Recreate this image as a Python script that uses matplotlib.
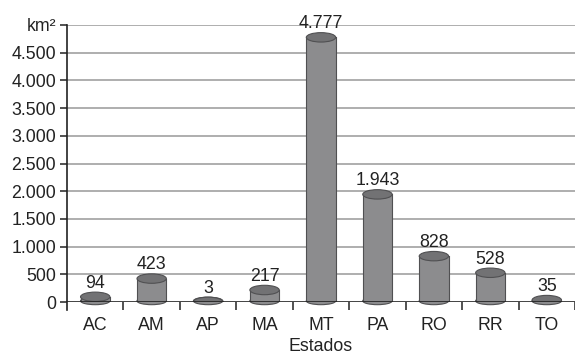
import matplotlib
matplotlib.use('Agg')
import matplotlib.pyplot as plt
from matplotlib import patches
from matplotlib.ticker import FixedLocator

plt.rcParams['font.family'] = ['Liberation Sans', 'DejaVu Sans']

# área por estado (km²)
estados = ['AC', 'AM', 'AP', 'MA', 'MT', 'PA', 'RO', 'RR', 'TO']
areas = [94, 423, 3, 217, 4777, 1943, 828, 528, 35]
rotulos = ['94', '423', '3', '217', '4.777', '1.943', '828', '528', '35']
yticks = [0, 500, 1000, 1500, 2000, 2500, 3000, 3500, 4000, 4500, 5000]
ytick_labels = ['0', '500', '1.000', '1.500', '2.000', '2.500', '3.000',
                '3.500', '4.000', '4.500', 'km²']

fs = 12.8

fig = plt.figure(figsize=(5.75, 3.57), dpi=100)
ax = fig.add_axes((0.1165, 0.154, 0.8835, 0.776))

ax.set_xlim(-0.5, len(estados) - 0.5)
ax.set_ylim(0, 5000)

# grade horizontal
for y in yticks[1:]:
    ax.axhline(y, color='#a8a8a8', lw=1.3, zorder=0)

largura = 0.52
elipse_h = 170  # altura da tampa em unidades de dados

corpo = '#8c8c8e'
tampa = '#727274'
borda = '#505052'

for i, v in enumerate(areas):
    x0 = i - largura / 2
    # base arredondada
    ax.add_patch(patches.Ellipse((i, 20), largura, elipse_h * 0.8, facecolor=corpo,
                                 edgecolor=borda, lw=0.8, zorder=3, clip_on=False))
    ax.add_patch(patches.Rectangle((x0, 20), largura, v - 20, facecolor=corpo,
                                   edgecolor='none', zorder=3))
    ax.plot([x0, x0], [20, v], color=borda, lw=0.8, zorder=4)
    ax.plot([x0 + largura, x0 + largura], [20, v], color=borda, lw=0.8, zorder=4)
    ax.add_patch(patches.Ellipse((i, v), largura, elipse_h, facecolor=tampa,
                                 edgecolor=borda, lw=0.8, zorder=5))
    ax.text(i, v + elipse_h / 2 + 10, rotulos[i], ha='center', va='bottom',
            fontsize=fs, color='#222222', zorder=6)

ax.axhline(0, color='#222222', lw=1.2, zorder=6)

for s in ['top', 'right', 'bottom']:
    ax.spines[s].set_visible(False)
ax.spines['left'].set_color('#222222')
ax.spines['left'].set_linewidth(1.2)
ax.spines['left'].set_bounds(-140, 5000)

ax.set_yticks(yticks)
ax.set_yticklabels(ytick_labels, fontsize=fs, color='#222222')
ax.tick_params(axis='y', direction='out', length=5, width=1.1, color='#222222', pad=3)

ax.set_xticks(range(len(estados)))
ax.set_xticklabels(estados, fontsize=fs, color='#222222')
ax.tick_params(axis='x', which='major', length=0, pad=11)
ax.xaxis.set_minor_locator(FixedLocator([k + 0.5 for k in range(len(estados))]))
ax.tick_params(axis='x', which='minor', direction='out', length=6, width=1.1,
               color='#222222')
ax.set_xlabel('Estados', fontsize=fs, color='#222222', labelpad=3)

fig.savefig('out.png', dpi=100)
